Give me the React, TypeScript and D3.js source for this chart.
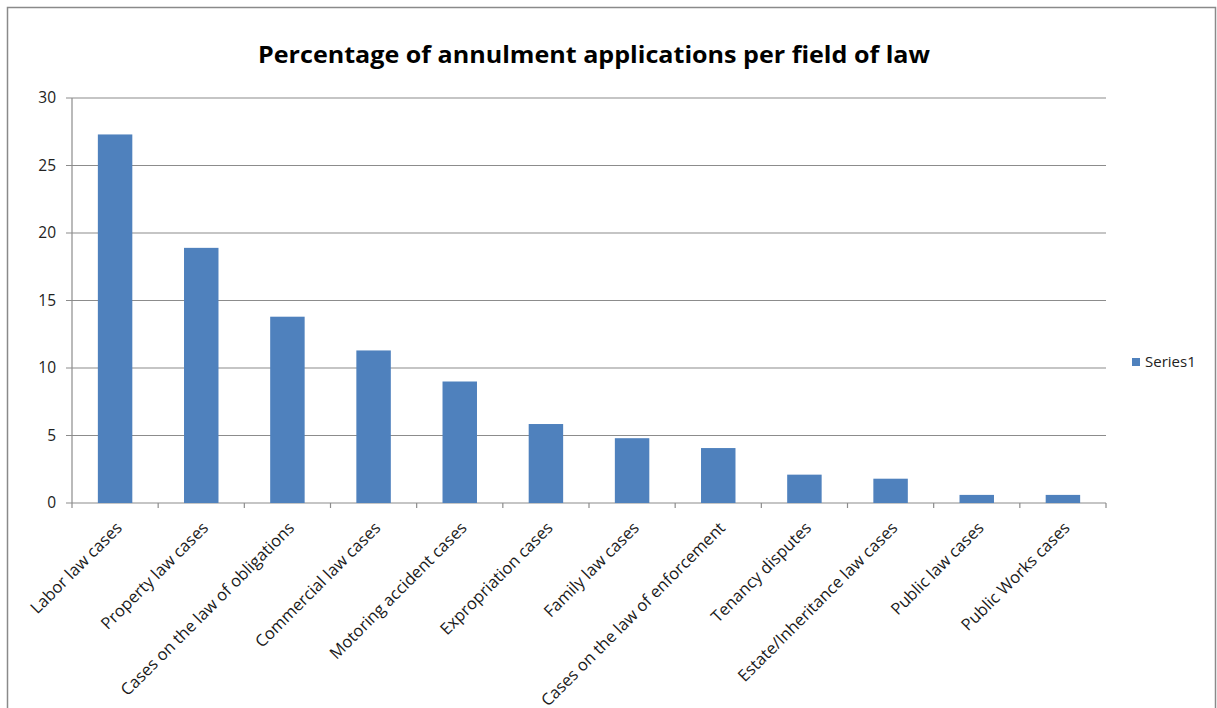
import React from "react";
import * as d3 from "d3";

const categories = [
  "Labor law cases",
  "Property law cases",
  "Cases on the law of obligations",
  "Commercial law cases",
  "Motoring accident cases",
  "Expropriation cases",
  "Family law cases",
  "Cases on the law of enforcement",
  "Tenancy disputes",
  "Estate/Inheritance law cases",
  "Public law cases",
  "Public Works cases",
];
const values = [27.3, 18.9, 13.8, 11.3, 9.0, 5.85, 4.8, 4.07, 2.1, 1.8, 0.6, 0.6];
const yTicks = [0, 5, 10, 15, 20, 25, 30];
const seriesName = "Series1";
const title = "Percentage of annulment applications per field of law";

const W = 1217;
const H = 708;
const plot = { left: 72, right: 1106, top: 98, bottom: 503 };
const FONT = "'Open Sans', Lato, sans-serif";

export default function App() {
  const x = d3
    .scaleBand<string>()
    .domain(categories)
    .range([plot.left, plot.right])
    .paddingInner(0.6)
    .paddingOuter(0.3);
  const band = d3.scaleBand<string>().domain(categories).range([plot.left, plot.right]);
  const y = d3.scaleLinear().domain([0, 30]).range([plot.bottom, plot.top]);
  const grid = "#8c8c8c";
  const blue = "#4f81bd";

  return (
    <div style={{ position: "absolute", left: 0, top: 0 }}>
      <svg width={W} height={H} style={{ display: "block" }}>
        <rect x={0} y={0} width={W} height={H} fill="#fff" />
        <rect x={7.5} y={7.5} width={1208} height={720} fill="#fff" stroke="#8a8a8a" strokeWidth={1.5} />
        <text
          x={594}
          y={63}
          textAnchor="middle"
          fontFamily={FONT}
          fontWeight="bold"
          fontSize={23}
          fill="#000"
          textLength={672}
          lengthAdjust="spacingAndGlyphs"
        >
          {title}
        </text>
        {yTicks.map((t) => (
          <g key={t}>
            <line x1={plot.left - 6} x2={plot.right} y1={y(t)} y2={y(t)} stroke={grid} strokeWidth={1.2} />
            <text x={56} y={y(t)} dy="0.35em" textAnchor="end" fontFamily={FONT} fontSize={15.5} fill="#222">
              {t}
            </text>
          </g>
        ))}
        <line x1={plot.left} x2={plot.left} y1={plot.top} y2={plot.bottom} stroke={grid} strokeWidth={1.2} />
        {categories.map((c, i) => (
          <line
            key={"t" + i}
            x1={(band(c) as number) + band.bandwidth()}
            x2={(band(c) as number) + band.bandwidth()}
            y1={plot.bottom}
            y2={plot.bottom + 5}
            stroke={grid}
            strokeWidth={1.2}
          />
        ))}
        <line x1={plot.left} x2={plot.left} y1={plot.bottom} y2={plot.bottom + 5} stroke={grid} strokeWidth={1.2} />
        {categories.map((c, i) => (
          <rect
            key={"b" + i}
            x={x(c) as number}
            y={y(values[i])}
            width={x.bandwidth()}
            height={plot.bottom - y(values[i])}
            fill={blue}
          />
        ))}
        {categories.map((c, i) => {
          const cx = (band(c) as number) + band.bandwidth() / 2 + 8;
          const cy = plot.bottom + 26;
          return (
            <text
              key={"l" + i}
              transform={`translate(${cx},${cy}) rotate(-45)`}
              textAnchor="end"
              fontFamily={FONT}
              fontSize={16.5}
              fill="#1a1a1a"
            >
              {c}
            </text>
          );
        })}
        <rect x={1132} y={358} width={8} height={8} fill={blue} />
        <text x={1145} y={362} dy="0.35em" fontFamily={FONT} fontSize={15} fill="#222">
          {seriesName}
        </text>
      </svg>
    </div>
  );
}
